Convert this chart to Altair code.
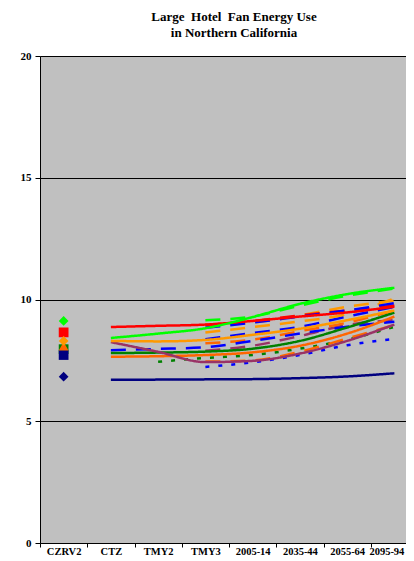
import altair as alt
import pandas as pd

cats = ["CZRV2", "CTZ", "TMY2", "TMY3", "2005-14", "2035-44", "2055-64", "2095-94"]

# Markers at CZRV2
marker_names = ["red_sq", "green_di", "dkgreen_sq", "navy_sq", "dkorange_tri", "orange_di", "navy_di"]
marker_values = [8.65, 9.12, 7.96, 7.72, 8.08, 8.30, 6.83]
marker_colors = ["#FF0000", "#00FF00", "#008000", "#000080", "#FF6600", "#FF9900", "#000080"]
marker_shapes = ["square", "diamond", "square", "square", "triangle-up", "diamond", "diamond"]

# Lines (values start at the given category index)
blue_dotted = [7.23, 7.42, 7.72, 8.12, 8.38]              # from TMY3
green_dotted = [7.44, 7.60, 7.72, 7.98, 8.35, 8.88]       # from TMY2
dkorange_dashB = [7.45, 7.50, 7.85, 8.40, 8.95]           # from TMY3
mauve_dash = [7.90, 8.10, 8.50, 8.95, 9.15]               # from TMY3
dkorange_dashA = [8.20, 8.35, 8.70, 9.05, 9.55]           # from TMY3
blue_dashB = [8.37, 8.62, 8.88, 9.30, 9.70]               # from TMY3
orange_dashA = [8.64, 8.87, 9.10, 9.40, 10.05]            # from TMY3
orange_dashB = [8.95, 9.05, 9.35, 9.70, 9.95]             # from TMY3
red_dash = [8.95, 9.12, 9.35, 9.55, 9.75]                 # from TMY3
blue_dashA = [8.84, 9.05, 9.30, 9.55, 9.85]               # from TMY3
green_dash = [9.15, 9.30, 9.75, 10.15, 10.45]             # from TMY3
blue_dash_long = [7.92, 7.97, 8.04, 8.30, 8.60, 8.88, 9.09]  # from CTZ
navy_solid = [6.70, 6.71, 6.72, 6.73, 6.77, 6.84, 6.97]
dkorange_solid = [7.65, 7.67, 7.72, 7.83, 8.10, 8.60, 9.30]
dkgreen_solid = [7.80, 7.82, 7.86, 7.98, 8.30, 8.85, 9.46]
mauve_solid = [8.25, 7.85, 7.43, 7.48, 7.78, 8.30, 8.97]
orange_solid = [8.30, 8.28, 8.34, 8.55, 8.80, 9.15, 9.55]
red_solid = [8.87, 8.92, 8.97, 9.12, 9.30, 9.47, 9.70]
green_solid = [8.42, 8.60, 8.82, 9.28, 9.82, 10.22, 10.48]

DOT = [4, 9]
DASH = [15, 10]
SOLID = [1, 0]

series = [
    ("blue_dotted", blue_dotted, 3, "#0000FF", DOT),
    ("green_dotted", green_dotted, 2, "#008000", DOT),
    ("dkorange_dashB", dkorange_dashB, 3, "#FF6600", DASH),
    ("mauve_dash", mauve_dash, 3, "#993366", DASH),
    ("dkorange_dashA", dkorange_dashA, 3, "#FF6600", DASH),
    ("blue_dashB", blue_dashB, 3, "#0000FF", DASH),
    ("orange_dashA", orange_dashA, 3, "#FF9900", DASH),
    ("orange_dashB", orange_dashB, 3, "#FF9900", DASH),
    ("red_dash", red_dash, 3, "#FF0000", DASH),
    ("blue_dashA", blue_dashA, 3, "#0000FF", DASH),
    ("green_dash", green_dash, 3, "#00FF00", DASH),
    ("blue_dash_long", blue_dash_long, 1, "#0000FF", DASH),
    ("navy_solid", navy_solid, 1, "#000080", SOLID),
    ("dkorange_solid", dkorange_solid, 1, "#FF6600", SOLID),
    ("dkgreen_solid", dkgreen_solid, 1, "#008000", SOLID),
    ("mauve_solid", mauve_solid, 1, "#993366", SOLID),
    ("orange_solid", orange_solid, 1, "#FF9900", SOLID),
    ("red_solid", red_solid, 1, "#FF0000", SOLID),
    ("green_solid", green_solid, 1, "#00FF00", SOLID),
]

rows = []
for i, (name, vals, start, col, dash) in enumerate(series):
    for j, v in enumerate(vals):
        rows.append({"series": name, "cat": cats[start + j], "value": v, "ord": i})
lines_df = pd.DataFrame(rows)

mk_df = pd.DataFrame({
    "series": marker_names,
    "cat": [cats[0]] * len(marker_names),
    "value": marker_values,
})

names = [s[0] for s in series]
colors = [s[3] for s in series]
dashes = [s[4] for s in series]

FONT = "Liberation Serif"

x_enc = alt.X(
    "cat:N",
    sort=cats,
    bandPosition=0.5,
    scale=alt.Scale(type="band", domain=cats, paddingInner=0, paddingOuter=0, range=[0, 378]),
    axis=alt.Axis(
        title=None, labelAngle=0, tickBand="extent", tickSize=4, tickColor="black",
        domainColor="black", labelFont=FONT, labelFontWeight="bold", labelFontSize=10.5,
        labelColor="black", labelPadding=-1, grid=False,
        labelOffset={"condition": {"test": "datum.value === '2095-94'", "value": -8}, "value": 0},
    ),
)
y_enc = alt.Y(
    "value:Q",
    scale=alt.Scale(domain=[0, 20], nice=False, zero=True),
    axis=alt.Axis(
        title=None, values=[0, 5, 10, 15, 20], tickSize=5, tickColor="black",
        domainColor="black", gridColor="black", gridOpacity=1, gridWidth=1,
        labelFont=FONT, labelFontWeight="bold", labelFontSize=11, labelColor="black",
        labelPadding=4,
    ),
)

lines = alt.Chart(lines_df).mark_line(strokeWidth=2.5, interpolate="monotone").encode(
    x=x_enc,
    y=y_enc,
    detail="series:N",
    color=alt.Color("series:N", scale=alt.Scale(domain=names, range=colors), legend=None),
    strokeDash=alt.StrokeDash("series:N", scale=alt.Scale(domain=names, range=dashes), legend=None),
    order="ord:Q",
)

points = alt.Chart(mk_df).mark_point(filled=True, size=95, opacity=1).encode(
    x=x_enc,
    y=y_enc,
    shape=alt.Shape("series:N", scale=alt.Scale(domain=marker_names, range=marker_shapes), legend=None),
    color=alt.Color("series:N", scale=alt.Scale(domain=marker_names, range=marker_colors), legend=None),
)

chart = alt.layer(lines, points).resolve_scale(color="independent", shape="independent").properties(
    width=366,
    height=487,
    title=alt.TitleParams(
        text=["Large\u00a0 Hotel\u00a0 Fan Energy Use", "in Northern California"],
        font=FONT, fontSize=13, fontWeight="bold", color="black",
        anchor="middle", offset=0, dx=11, lineHeight=16, baseline="alphabetic",
    ),
    autosize=alt.AutoSizeParams(type="none"),
    padding={"left": 32, "top": 48, "right": 0, "bottom": 20},
).configure_view(fill="#C0C0C0", stroke=None)

chart.save("out.html", embed_options={"renderer": "svg", "actions": False})
